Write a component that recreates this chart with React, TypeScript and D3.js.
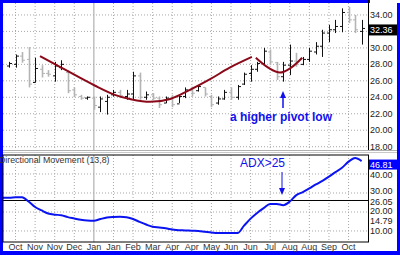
import React from 'react';
import * as d3 from 'd3';

const W = 400;
const H = 255;

// Weekly OHLC bars
const highs = [28.3, 29.2, 29.5, 30.1, 28.8, 27.9, 27.3, 28.3, 28.5, 27.3, 25.2, 24.3, 24.1, 24.1, 24.1, 24.3, 24.9, 24.9, 24.9, 27.1, 27.0, 24.7, 24.5, 24.1, 24.1, 24.3, 24.3, 25.2, 25.3, 25.5, 25.2, 24.3, 24.1, 24.9, 25.2, 25.5, 27.0, 27.9, 28.3, 30.0, 29.8, 28.3, 28.3, 30.4, 29.4, 28.9, 30.0, 30.7, 32.2, 32.8, 33.4, 34.8, 35.0, 34.0, 33.4];
const lows = [27.6, 27.6, 28.2, 25.2, 25.8, 26.4, 26.5, 25.9, 27.3, 24.5, 24.0, 23.7, 23.7, 22.5, 22.2, 21.9, 24.1, 23.9, 23.7, 23.7, 23.7, 23.7, 23.7, 22.7, 23.3, 22.8, 23.3, 23.9, 24.1, 24.7, 24.1, 22.8, 23.1, 23.7, 23.7, 23.7, 25.5, 25.9, 27.1, 27.9, 27.9, 26.1, 25.9, 26.7, 27.7, 27.9, 28.3, 29.2, 28.9, 30.7, 31.8, 31.9, 33.0, 31.8, 30.4];
const opens = [27.8, 28.0, 29.0, 28.6, 25.8, 27.4, 26.9, 26.6, 27.6, 27.0, 24.9, 24.1, 23.9, 23.9, 22.8, 23.5, 24.3, 24.6, 24.1, 24.4, 26.6, 24.0, 24.3, 23.9, 23.3, 23.9, 23.2, 24.1, 24.8, 24.8, 25.2, 24.1, 23.3, 23.8, 24.6, 24.0, 25.6, 26.9, 27.4, 28.1, 29.5, 28.2, 26.5, 27.9, 28.4, 28.0, 28.6, 29.5, 30.2, 31.8, 32.2, 32.6, 34.3, 33.4, 32.0];
const closes = [28.1, 29.0, 28.5, 25.6, 27.5, 26.9, 26.8, 27.8, 28.0, 24.8, 24.3, 23.9, 24.0, 23.0, 23.8, 24.0, 24.6, 24.2, 24.4, 26.6, 24.0, 24.3, 23.9, 23.1, 23.9, 23.1, 24.1, 24.9, 24.5, 25.3, 24.4, 23.1, 23.8, 24.6, 24.0, 25.3, 26.8, 27.4, 28.1, 29.6, 28.3, 26.5, 27.9, 28.4, 28.0, 28.6, 29.6, 30.2, 31.8, 32.2, 32.6, 34.3, 33.4, 32.2, 32.36];

// ADX line, first value sits one week before the first bar
const adx = [27.5, 27.5, 27.7, 27.8, 25.5, 22.6, 20.8, 19.2, 18.6, 18.3, 17.3, 16.6, 15.9, 15.5, 15.4, 16.3, 17.1, 17.4, 17.5, 17.2, 16.3, 14.8, 13.4, 12.2, 11.8, 11.4, 10.8, 10.4, 10.3, 10.1, 10.0, 9.6, 9.2, 8.9, 8.9, 8.9, 8.9, 12.8, 16.5, 19.5, 22.0, 24.2, 24.2, 23.6, 25.5, 28.9, 30.5, 32.4, 34.5, 36.4, 38.6, 41.0, 43.3, 46.5, 48.4, 46.81];

// Fitted arcs [bar index, price]
const arc1 = [[4.75, 29.0], [8.0, 27.6], [13.2, 25.4], [16.2, 24.3], [18.5, 23.8], [21.6, 23.45], [24.7, 23.8], [27.7, 24.9], [30.8, 26.2], [33.8, 27.6], [37.2, 28.9]];
const arc2 = [[37.8, 28.8], [39.7, 27.6], [41.5, 27.0], [43.2, 27.6], [44.9, 28.8]];

const monthLabels = ['Oct', 'Nov', 'Nov', 'Dec', 'Jan', 'Jan', 'Feb', 'Mar', 'Apr', 'Apr', 'May', 'Jun', 'Jun', 'Jul', 'Aug', 'Aug', 'Sep', 'Oct'];
const priceTicks = [18, 20, 22, 24, 26, 28, 30, 32, 34];
const adxTicks = [10, 20, 30, 40];
const lastPrice = 32.36;
const adxThreshold = 26.05;
const adxOther = 14.79;
const lastAdx = 46.81;

const FONT = "'Liberation Sans', Arial, sans-serif";
const BLUE = '#0000ff';

export default function App() {
  const x = d3.scaleLinear().domain([0, 54]).range([9, 361.6]);
  const yP = d3.scaleLinear().domain([17.6, 35.45]).range([150, 3]);
  const yA = d3.scaleLinear().domain([4.2, 50]).range([242, 155]);

  const plotL = 3;
  const plotR = 368;
  const upT = 3;
  const upB = 150;
  const loT = 155;
  const loB = 242;

  const tickIdx = monthLabels.map((_, k) => 1 + 3 * k);

  const arcLine = d3
    .line<number[]>()
    .x((d) => x(d[0]))
    .y((d) => yP(d[1]))
    .curve(d3.curveCatmullRom.alpha(0.5));

  const adxLine = d3
    .line<number>()
    .x((_, i) => x(i - 1))
    .y((d) => yA(d))
    .curve(d3.curveMonotoneX);

  const adxLabelY: Record<number, number> = { 10: yA(10) + 0.5, 20: yA(20) - 1, 30: yA(30) - 1.5, 40: yA(40) + 1 };

  return (
    <svg
      width={W}
      height={H}
      style={{ position: 'absolute', left: 0, top: 0 }}
      fontFamily={FONT}
    >
      <defs>
        <clipPath id="upClip">
          <rect x={plotL} y={upT} width={plotR - plotL} height={upB - upT} />
        </clipPath>
        <clipPath id="loClip">
          <rect x={plotL} y={loT} width={plotR - plotL} height={loB - loT} />
        </clipPath>
      </defs>
      <rect x={0} y={0} width={W} height={H} fill={BLUE} />
      <rect x={3} y={3} width={394} height={248} fill="#fff" />
      <rect x={370} y={0} width={30} height={3} fill="#fff" />

      {/* vertical grid */}
      {tickIdx.map((ti, k) => (
        <g key={'vg' + k}>
          <line
            x1={x(ti)}
            x2={x(ti)}
            y1={upT}
            y2={upB}
            stroke={k === 4 ? '#a0a0a0' : '#a8a8a8'}
            strokeDasharray={k === 4 ? undefined : '1 2'}
          />
          <line
            x1={x(ti)}
            x2={x(ti)}
            y1={loT}
            y2={loB}
            stroke={k === 4 ? '#a0a0a0' : '#a8a8a8'}
            strokeDasharray={k === 4 ? undefined : '1 2'}
          />
        </g>
      ))}

      {/* horizontal grid */}
      {priceTicks.map((t) => (
        <line key={'hg' + t} x1={plotL} x2={plotR} y1={yP(t)} y2={yP(t)} stroke="#a8a8a8" strokeDasharray="1 2" />
      ))}
      {adxTicks.map((t) => (
        <line key={'ag' + t} x1={plotL} x2={plotR} y1={yA(t)} y2={yA(t)} stroke="#a8a8a8" strokeDasharray="1 2" />
      ))}

      {/* bars */}
      <g clipPath="url(#upClip)">
        {highs.map((h, i) => {
          const down = closes[i] < opens[i];
          const c = down ? '#b4b4b4' : '#111';
          const sw = down ? 1.6 : 1;
          const cx = Math.round(x(i)) + 0.5;
          return (
            <g key={'b' + i} stroke={c} strokeWidth={sw}>
              <line x1={cx} x2={cx} y1={yP(h)} y2={yP(lows[i])} />
              <line x1={cx - 2.5} x2={cx} y1={yP(opens[i])} y2={yP(opens[i])} strokeWidth={1} />
              <line x1={cx} x2={cx + 2.5} y1={yP(closes[i])} y2={yP(closes[i])} strokeWidth={1} />
            </g>
          );
        })}
        <path d={arcLine(arc1) || ''} fill="none" stroke="#8b0a1a" strokeWidth={2} />
        <path d={arcLine(arc2) || ''} fill="none" stroke="#8b0a1a" strokeWidth={2} />
      </g>

      {/* annotation upper */}
      <text x={230} y={117} dominantBaseline="central" fontSize={12} fontWeight="bold" fill="#1010ee">
        a higher pivot low
      </text>
      <line x1={283} x2={283} y1={96} y2={108} stroke="#1010ee" strokeWidth={1.5} />
      <polygon points="283,91 280,98 286,98" fill="#1010ee" />

      {/* separator */}
      <line x1={3} x2={397} y1={150.5} y2={150.5} stroke="#b0b0b0" />
      <line x1={3} x2={397} y1={152.5} y2={152.5} stroke="#c8c8c8" />

      {/* upper right axis */}
      <line x1={plotR + 0.5} x2={plotR + 0.5} y1={0} y2={upB} stroke="#000" />
      {priceTicks.map((t) => (
        <text key={'pt' + t} x={370} y={yP(t)} dominantBaseline="central" fontSize={9} fill="#222">
          {t.toFixed(2)}
        </text>
      ))}
      <rect x={369} y={yP(lastPrice) - 4} width={28} height={11} fill="#000" />
      <text x={370} y={yP(lastPrice) + 1.5} dominantBaseline="central" fontSize={9} fill="#fff">
        {lastPrice.toFixed(2)}
      </text>

      {/* lower panel */}
      <line x1={plotL} x2={plotR} y1={yA(adxThreshold)} y2={yA(adxThreshold)} stroke="#000" />
      <g clipPath="url(#loClip)">
        <path d={adxLine(adx) || ''} fill="none" stroke="#0a14f0" strokeWidth={2} />
      </g>
      <rect x={plotL} y={loT} width={plotR - plotL + 0.5} height={loB - loT} fill="none" stroke="#000" />
      <text x={-1} y={160} dominantBaseline="central" fontSize={8.8} fill="#333">
        Directional Movement (13,8)
      </text>
      <text x={240} y={163} dominantBaseline="central" fontSize={12} fill="#1010ee">
        ADX&gt;25
      </text>
      <line x1={282} x2={282} y1={172} y2={190} stroke="#1010ee" strokeWidth={1} />
      <polygon points="282,195 279,188 285,188" fill="#1010ee" />

      {adxTicks.map((t) => (
        <text key={'at' + t} x={370} y={adxLabelY[t]} dominantBaseline="central" fontSize={9} fill="#222">
          {t.toFixed(2)}
        </text>
      ))}
      <text x={370} y={yA(adxThreshold) + 1.5} dominantBaseline="central" fontSize={9} fill="#222">
        {adxThreshold.toFixed(2)}
      </text>
      <text x={370} y={yA(adxOther) - 0.5} dominantBaseline="central" fontSize={9} fill="#222">
        {adxOther.toFixed(2)}
      </text>
      <rect x={369} y={yA(lastAdx) - 1.5} width={28} height={10} fill={BLUE} />
      <text x={370} y={yA(lastAdx) + 3.5} dominantBaseline="central" fontSize={9} fill="#fff">
        {lastAdx.toFixed(2)}
      </text>

      {/* x labels */}
      {tickIdx.map((ti, k) => (
        <text key={'xl' + k} x={x(ti)} y={246.5} textAnchor="middle" dominantBaseline="central" fontSize={9} fill="#333">
          {monthLabels[k]}
        </text>
      ))}
    </svg>
  );
}
